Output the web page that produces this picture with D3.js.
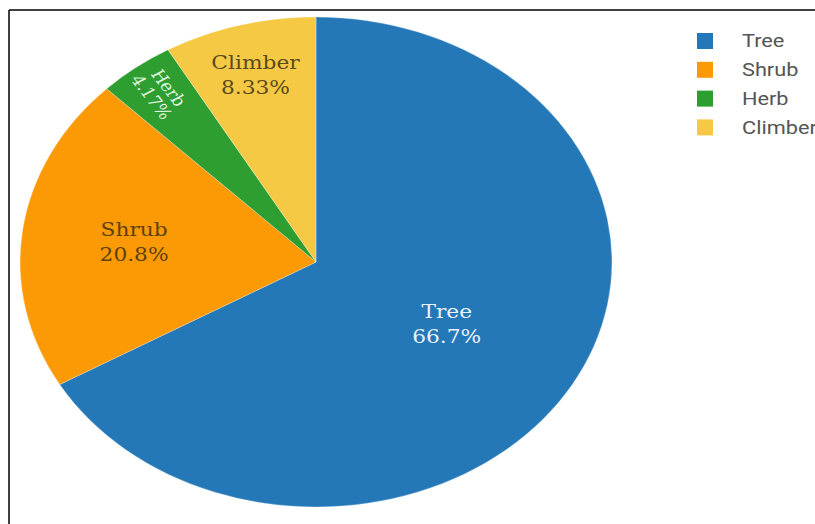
<!DOCTYPE html>
<html>
<head>
<meta charset="utf-8">
<script src="https://cdn.jsdelivr.net/npm/d3@7"></script>
<style>
  body { margin: 0; background: #fff; }
  svg { display: block; }
</style>
</head>
<body>
<svg id="chart" width="815" height="524"></svg>
<script>
// plant habit counts
const categories = ['Tree', 'Shrub', 'Herb', 'Climber']
const counts = [16, 5, 1, 2]
const colors = ['#2478b8', '#fc9a06', '#2e9e30', '#f6c944']
const textColors = ['#eaf3fb', '#5e4210', '#e2f7e0', '#5b4a1c']

const width = 815
const height = 524
const sx = 1.208 // picture is stretched sideways
const radius = 245
const cx = 316
const cy = 262

// how far out each label sits (fraction of radius)
const labelFrac = [0.51, 0.62, 0.87, 0.79]

const svg = d3.select('#chart')

// frame lines
svg.append('line').attr('x1', 9).attr('y1', 10).attr('x2', width).attr('y2', 10)
  .attr('stroke', '#000').attr('stroke-width', 1.5)
svg.append('line').attr('x1', 9).attr('y1', 10).attr('x2', 9).attr('y2', height)
  .attr('stroke', '#000').attr('stroke-width', 1.5)

const data = categories.map((c, i) => ({ name: c, value: counts[i], i: i }))
const total = d3.sum(counts)

const pie = d3.pie()
  .sort(null)
  .value(d => d.value)

const arc = d3.arc()
  .innerRadius(0)
  .outerRadius(radius)

const g = svg.append('g')
  .attr('transform', `translate(${cx},${cy}) scale(${sx},1)`)

const slices = g.selectAll('.arc')
  .data(pie(data))
  .enter().append('g')
  .attr('class', 'arc')

slices.append('path')
  .attr('d', arc)
  .attr('fill', d => colors[d.data.i])
  .attr('stroke', 'rgba(255,255,255,0.35)')
  .attr('stroke-width', 0.8)
  .attr('vector-effect', 'non-scaling-stroke')

const fmt = v => {
  const p = v / total * 100
  return (p >= 10 ? d3.format('.1f')(p) : d3.format('.2f')(p)) + '%'
}

slices.each(function (d) {
  const mid = (d.startAngle + d.endAngle) / 2
  const r = radius * labelFrac[d.data.i]
  const x = Math.sin(mid) * r
  const y = -Math.cos(mid) * r
  const small = d.data.name === 'Herb'
  const rot = small ? mid * 180 / Math.PI - 265 : 0
  const fs = small ? 15.5 : 18
  const t = d3.select(this).append('text')
    .attr('transform', `translate(${x},${y}) rotate(${rot})`)
    .attr('text-anchor', 'middle')
    .attr('font-family', '"DejaVu Serif", serif')
    .attr('font-size', fs)
    .attr('fill', textColors[d.data.i])
  t.append('tspan').attr('x', 0).attr('y', small ? -4 : -6).text(d.data.name)
  t.append('tspan').attr('x', 0).attr('y', small ? 13 : 19).text(fmt(d.data.value))
})

// legend
const legend = svg.append('g')
const rows = legend.selectAll('.item')
  .data(data)
  .enter().append('g')
  .attr('class', 'item')
  .attr('transform', (d, i) => `translate(697,${41 + i * 28.8})`)

rows.append('rect')
  .attr('x', 0).attr('y', -8)
  .attr('width', 16).attr('height', 16)
  .attr('fill', d => colors[d.i])

rows.append('text')
  .attr('transform', `translate(45,0) scale(${sx},1)`)
  .attr('dy', '0.35em')
  .attr('font-family', 'Roboto, sans-serif')
  .attr('font-size', 18)
  .attr('fill', '#555')
  .text(d => d.name)
</script>
</body>
</html>
